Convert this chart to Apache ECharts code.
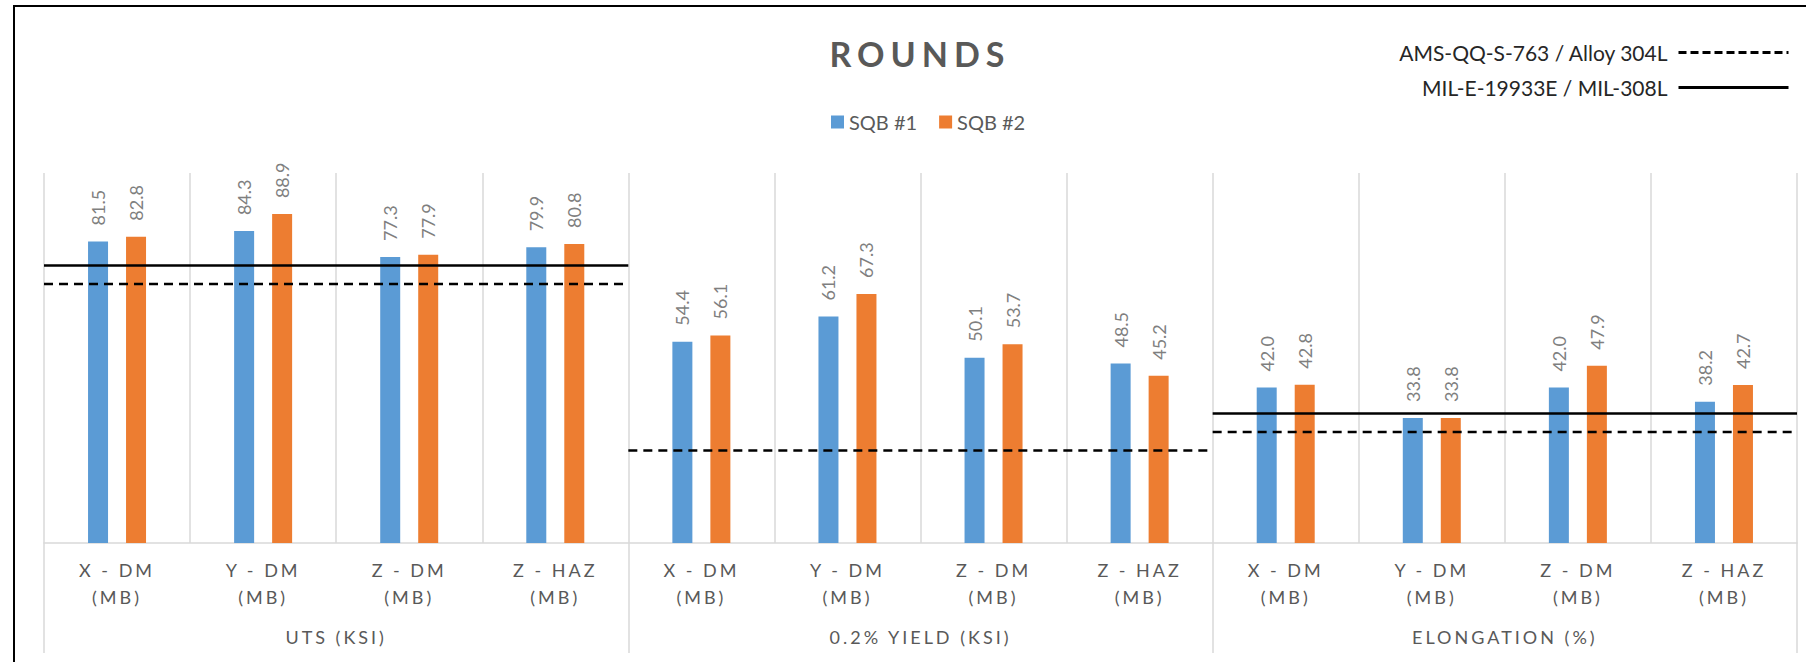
<!DOCTYPE html>
<html><head><meta charset="utf-8">
<script src="https://cdn.jsdelivr.net/npm/echarts@6/dist/echarts.min.js"></script>
<style>
html,body{margin:0;padding:0;background:#fff;}
#c{width:1806px;height:662px;}
#frame{position:absolute;left:13px;top:5px;right:0;bottom:0;border-left:2px solid #000;border-top:2px solid #000;pointer-events:none;}
text[fill="#595959"]{letter-spacing:3px;}
text[fill="#595958"]{letter-spacing:6px;}
</style></head>
<body><div id="c"></div><div id="frame"></div>
<script>
const categories = ['X - DM (MB)', 'Y - DM (MB)', 'Z - DM (MB)', 'Z - HAZ (MB)',
                    'X - DM (MB)', 'Y - DM (MB)', 'Z - DM (MB)', 'Z - HAZ (MB)',
                    'X - DM (MB)', 'Y - DM (MB)', 'Z - DM (MB)', 'Z - HAZ (MB)'];
const groups = ['UTS (KSI)', '0.2% YIELD (KSI)', 'ELONGATION (%)'];
const sqb1 = [81.5, 84.3, 77.3, 79.9, 54.4, 61.2, 50.1, 48.5, 42.0, 33.8, 42.0, 38.2];
const sqb2 = [82.8, 88.9, 77.9, 80.8, 56.1, 67.3, 53.7, 45.2, 42.8, 33.8, 47.9, 42.7];
const amsSpec = [70, 25, 30];      // AMS-QQ-S-763 / Alloy 304L (dashed)
const milSpec = [75, null, 35];    // MIL-E-19933E / MIL-308L (solid)
const AMS = 'AMS-QQ-S-763 / Alloy 304L';
const MIL = 'MIL-E-19933E / MIL-308L';

const per = categories.length / groups.length;
function specSeries(name, vals, type) {
  const out = [];
  vals.forEach((v, i) => {
    if (v == null) return;
    out.push({
      name: name, type: 'line', xAxisIndex: 2, yAxisIndex: 0,
      data: [[i * per, v], [(i + 1) * per, v]],
      symbol: 'none', silent: true, z: 5,
      lineStyle: { color: '#000', width: 2.5, type: type },
      itemStyle: { color: '#000' }
    });
  });
  return out;
}
const FONT = 'Lato';
const barLabel = {
  show: true, position: 'top', rotate: 90, align: 'left', verticalAlign: 'middle',
  distance: 16, color: '#7f7f7f', fontSize: 18, fontFamily: FONT,
  formatter: p => p.value.toFixed(1)
};
const chart = echarts.init(document.getElementById('c'), null, { renderer: 'svg' });
chart.setOption({
  backgroundColor: '#fff',
  animation: false,
  title: {
    text: 'ROUNDS', left: 915, top: 31, textAlign: 'center',
    textStyle: { fontFamily: FONT, fontWeight: 'bold', fontSize: 34, color: '#595958' }
  },
  legend: [
    {
      data: ['SQB #1', 'SQB #2'], left: 826, top: 107, icon: 'rect',
      itemWidth: 13, itemHeight: 13, itemGap: 22,
      textStyle: { fontFamily: FONT, fontSize: 20, color: '#5a5a5a' }
    },
    {
      data: [
        { name: AMS, lineStyle: { type: [8, 4], width: 3 } },
        { name: MIL, lineStyle: { width: 3 } }
      ],
      orient: 'vertical', right: 11, top: 37, align: 'right',
      itemWidth: 110, itemHeight: 14, itemGap: 14,
      itemStyle: { opacity: 0, color: 'rgba(0,0,0,0)', borderWidth: 0 },
      textStyle: { fontFamily: FONT, fontSize: 21, color: '#262626', padding: [0, 6, 0, 0] }
    }
  ],
  grid: { left: 44, right: 9, top: 173, bottom: 119 },
  xAxis: [
    {
      type: 'category', data: categories, gridIndex: 0,
      axisLine: { lineStyle: { color: '#d9d9d9', width: 1.5 } },
      axisTick: { show: false },
      splitLine: { show: true, interval: 0, lineStyle: { color: '#d9d9d9', width: 1.5 } },
      axisLabel: {
        interval: 0, margin: 13, lineHeight: 27, fontSize: 18, fontFamily: FONT, color: '#595959',
        formatter: v => v.replace(' (', '\n(')
      }
    },
    {
      type: 'category', data: groups, gridIndex: 0, position: 'bottom',
      axisLine: { show: false },
      axisTick: { show: true, length: 110, lineStyle: { color: '#d9d9d9', width: 1.5 } },
      axisLabel: { interval: 0, margin: 85, fontSize: 18, fontFamily: FONT, color: '#595959' }
    },
    { type: 'value', min: 0, max: categories.length, show: false, gridIndex: 0 }
  ],
  yAxis: [{ type: 'value', min: 0, max: 100, show: false }],
  series: [
    { name: 'SQB #1', type: 'bar', data: sqb1, barWidth: 20, barGap: '90%',
      itemStyle: { color: '#5B9BD5' }, label: barLabel },
    { name: 'SQB #2', type: 'bar', data: sqb2, barWidth: 20, barGap: '90%',
      itemStyle: { color: '#ED7D31' }, label: barLabel },
    ...specSeries(AMS, amsSpec, [9, 6]),
    ...specSeries(MIL, milSpec, 'solid')
  ]
});
</script>
</body></html>
